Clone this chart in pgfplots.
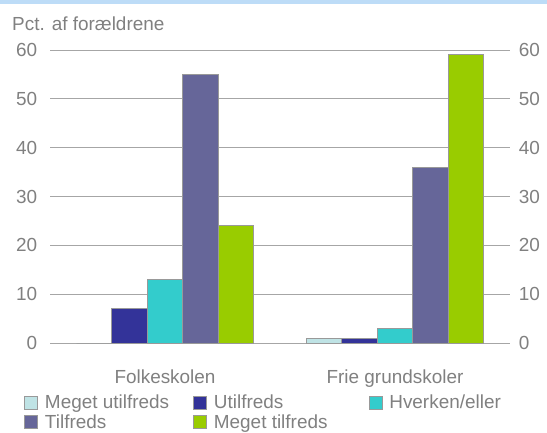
\documentclass[border=0pt]{standalone}
\usepackage{pgfplots}
\pgfplotsset{compat=1.18}
\usepackage{fontspec}
\setmainfont{Liberation Sans}

\definecolor{txtgray}{HTML}{808080}
\definecolor{gridgray}{HTML}{A6A6A6}
\definecolor{edgegray}{HTML}{999999}
\definecolor{cMU}{HTML}{BFE3E5}
\definecolor{cU}{HTML}{333399}
\definecolor{cH}{HTML}{33CCCC}
\definecolor{cT}{HTML}{666699}
\definecolor{cMT}{HTML}{99CC00}
\definecolor{topband}{HTML}{BDDCF7}

\begin{document}
\begin{tikzpicture}[x=1bp,y=1bp]
    \path[use as bounding box] (0,0) rectangle (547,432);
    \fill[topband] (0,428) rectangle (547,432);
    \node[anchor=base west, inner sep=0pt, text=txtgray, font=\fontsize{19}{20}\selectfont]
        at (12,401) {Pct. af forældrene};

    \begin{axis}[
        at={(50bp,89bp)}, anchor=south west,
        scale only axis,
        width=460bp, height=293bp,
        ybar=0pt, bar width=35.5bp,
        xmin=-0.5, xmax=1.5,
        ymin=0, ymax=60,
        ytick={0,10,...,60},
        xtick={0,1},
        xticklabels={Folkeskolen, Frie grundskoler},
        /pgf/number format/assume math mode=true,
        axis lines*=left,
        y axis line style={draw=none},
        x axis line style={draw=gridgray, line width=1bp},
        ytick style={draw=none},
        xtick style={draw=none},
        extra x ticks={-0.5,0.5,1.5},
        extra x tick labels={},
        extra x tick style={major tick length=5bp, tick align=outside,
            tick style={draw=gridgray, line width=1bp}},
        ymajorgrids,
        major grid style={draw=gridgray, line width=1bp},
        ticklabel style={text=txtgray, font=\fontsize{19}{20}\selectfont},
        yticklabel style={inner sep=0pt, anchor=east, xshift=-16bp+0.333em},
        xticklabel style={inner sep=0pt, anchor=north, yshift=-22bp},
        every axis plot/.append style={draw=edgegray, line width=0.8bp},
        legend columns=3,
        legend style={at={(-26/460,-50/293)}, anchor=north west,
            draw=none, fill=none, inner sep=0pt,
            font=\fontsize{19}{20}\selectfont, text=txtgray,
            /tikz/every odd column/.append style={column sep=5bp},
            /tikz/column 2/.append style={column sep=22bp},
            /tikz/column 4/.append style={column sep=39bp},
            legend cell align=left},
        legend image code/.code={
            \draw[#1, line width=0.8bp] (0bp,-6.5bp) rectangle (13bp,6.5bp);
        },
        clip=false,
    ]
    \addplot[fill=cMU] coordinates {(0,0) (1,1)};
    \addlegendentry{Meget utilfreds}
    \addplot[fill=cU] coordinates {(0,7) (1,0.9)};
    \addlegendentry{Utilfreds}
    \addplot[fill=cH] coordinates {(0,13) (1,3)};
    \addlegendentry{Hverken/eller}
    \addplot[fill=cT] coordinates {(0,55) (1,36)};
    \addlegendentry{Tilfreds}
    \addplot[fill=cMT] coordinates {(0,24) (1,59)};
    \addlegendentry{Meget tilfreds}
    \end{axis}

    \begin{axis}[
        at={(50bp,89bp)}, anchor=south west,
        scale only axis,
        width=460bp, height=293bp,
        xmin=-0.5, xmax=1.5,
        ymin=0, ymax=60,
        ytick={0,10,...,60},
        /pgf/number format/assume math mode=true,
        axis x line=none,
        axis y line*=right,
        y axis line style={draw=none},
        ytick style={draw=none},
        yticklabel style={text=txtgray, font=\fontsize{19}{20}\selectfont,
            inner sep=0pt, anchor=west, xshift=12bp-0.333em},
    ]
    \addplot[draw=none] coordinates {(0,0)};
    \end{axis}
\end{tikzpicture}
\end{document}
